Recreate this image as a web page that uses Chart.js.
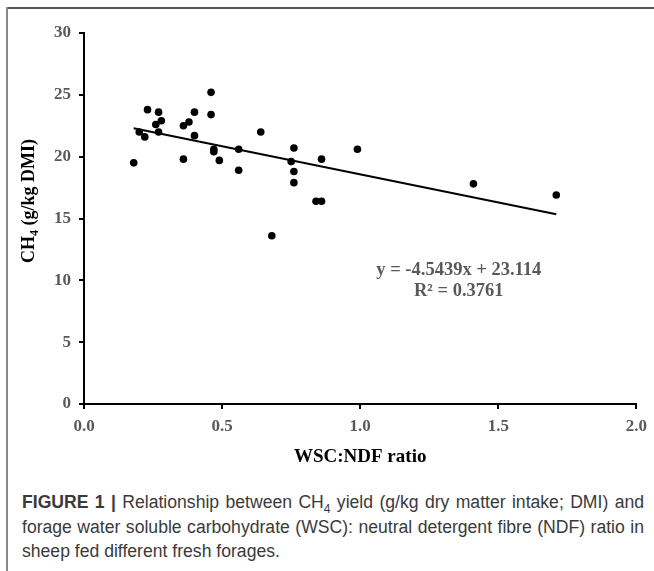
<!DOCTYPE html>
<html>
<head>
<meta charset="utf-8">
<script src="https://cdn.jsdelivr.net/npm/chart.js@4"></script>
<style>
html, body { margin: 0; padding: 0; background: #fff; }
body { width: 654px; height: 571px; position: relative; overflow: hidden; }
#frameTop { position: absolute; left: 6px; top: 7px; width: 648px; height: 2px; background: #555; }
#frameLeft { position: absolute; left: 6px; top: 7px; width: 2px; height: 564px; background: #888; }
#chartBox { position: absolute; left: 0; top: 0; }
#caption { position: absolute; left: 22px; top: 490px; width: 622px;
  font-family: "Liberation Sans", Arial, sans-serif; font-size: 17.6px; line-height: 24.5px; color: #3a3a3a; }
.cl { white-space: nowrap; text-align: justify; text-align-last: justify; }
.last { white-space: nowrap; }
#caption sub { font-size: 12px; line-height: 0; }
</style>
</head>
<body>
<div id="frameTop"></div>
<div id="frameLeft"></div>
<div id="chartBox"><canvas id="myChart" width="654" height="480"></canvas></div>
<div id="caption">
  <div class="cl"><b>FIGURE 1 |</b> Relationship between CH<sub>4</sub> yield (g/kg dry matter intake; DMI) and</div>
  <div class="cl">forage water soluble carbohydrate (WSC): neutral detergent fibre (NDF) ratio in</div>
  <div class="last">sheep fed different fresh forages.</div>
</div>
<script>
// WSC:NDF ratio (x) and CH4 yield g/kg DMI (y)
let ratioX = [0.18, 0.20, 0.22, 0.23, 0.26, 0.27, 0.27, 0.28, 0.36, 0.36, 0.38,
  0.40, 0.40, 0.46, 0.46, 0.47, 0.47, 0.49, 0.56, 0.56, 0.64, 0.68,
  0.75, 0.76, 0.76, 0.76, 0.84, 0.86, 0.86, 0.99, 1.41, 1.71];
let ch4Y = [19.5, 22.0, 21.6, 23.8, 22.6, 23.6, 22.0, 22.9, 19.8, 22.5, 22.8,
  23.6, 21.7, 25.2, 23.4, 20.6, 20.4, 19.7, 20.6, 18.9, 22.0, 13.6,
  19.6, 20.7, 18.8, 17.9, 16.4, 16.4, 19.8, 20.6, 17.8, 16.9];

// linear trend as printed on the figure
let trendSlope = -4.5439;
let trendIntercept = 23.114;
let trendX = [0.18, 1.71];
let eqLines = ["y = -4.5439x + 23.114", "R\u00B2 = 0.3761"];

let serif = "'Liberation Serif', 'Times New Roman', serif";

let points = ratioX.map((x, i) => ({x: x, y: ch4Y[i]}));
let trend = trendX.map(x => ({x: x, y: trendSlope * x + trendIntercept}));

// y axis title with subscript and the equation text
let extraText = {
  id: "extraText",
  afterDraw(chart) {
    let ctx = chart.ctx;
    ctx.save();
    let big = "bold 18px " + serif, small = "bold 12px " + serif;
    ctx.font = big;
    let wCH = ctx.measureText("CH").width;
    let wRest = ctx.measureText(" (g/kg DMI)").width;
    ctx.font = small;
    let w4 = ctx.measureText("4").width;
    let total = wCH + w4 + wRest;
    ctx.translate(34, 201);
    ctx.rotate(-Math.PI / 2);
    ctx.fillStyle = "#000";
    ctx.textBaseline = "alphabetic";
    ctx.textAlign = "left";
    let sx = -total / 2;
    ctx.font = big;
    ctx.fillText("CH", sx, 0);
    ctx.font = small;
    ctx.fillText("4", sx + wCH, 4);
    ctx.font = big;
    ctx.fillText(" (g/kg DMI)", sx + wCH + w4, 0);
    ctx.restore();

    // equation
    let xs = chart.scales.x, ys = chart.scales.y;
    ctx.save();
    ctx.font = "bold 18.5px " + serif;
    ctx.fillStyle = "#595959";
    ctx.textAlign = "center";
    ctx.textBaseline = "middle";
    ctx.fillText(eqLines[0], xs.getPixelForValue(1.357), ys.getPixelForValue(10.8));
    ctx.fillText(eqLines[1], xs.getPixelForValue(1.357), ys.getPixelForValue(9.1));
    ctx.restore();
  }
};

let tickFont = {family: serif, weight: "bold", size: 17};

new Chart("myChart", {
  type: "scatter",
  data: {
    datasets: [{
      data: points,
      backgroundColor: "#000",
      borderWidth: 0,
      pointRadius: 3.8,
      pointHoverRadius: 3.8
    }, {
      type: "line",
      data: trend,
      borderColor: "#000",
      borderWidth: 2,
      pointRadius: 0,
      fill: false
    }]
  },
  options: {
    responsive: false,
    animation: false,
    layout: {padding: {top: 33, right: 16, left: 0, bottom: 0}},
    plugins: {legend: {display: false}, tooltip: {enabled: false}},
    scales: {
      x: {
        type: "linear",
        min: 0, max: 2,
        afterFit: s => { s.height = 76; },
        ticks: {stepSize: 0.5, color: "#595959", font: tickFont, padding: 7,
          callback: v => v.toFixed(1)},
        grid: {drawOnChartArea: false, drawTicks: true, tickLength: 5, color: "#000", lineWidth: 2},
        border: {display: true, color: "#000", width: 2},
        title: {display: true, text: "WSC:NDF ratio", color: "#000",
          font: {family: serif, weight: "bold", size: 19}, padding: {top: 8, bottom: 12}}
      },
      y: {
        min: 0, max: 30,
        afterFit: s => { s.width = 84; },
        ticks: {stepSize: 5, color: "#595959", font: tickFont, padding: 8},
        grid: {drawOnChartArea: false, drawTicks: true, tickLength: 5, color: "#000", lineWidth: 2},
        border: {display: true, color: "#000", width: 2}
      }
    }
  },
  plugins: [extraText]
});
</script>
</body>
</html>
